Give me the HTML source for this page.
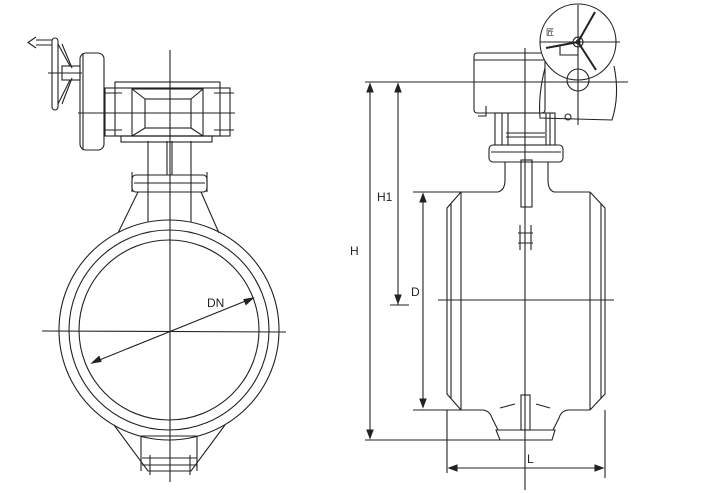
<!DOCTYPE html>
<html><head><style>html,body{margin:0;padding:0;background:#fff}svg{display:block}</style></head>
<body>
<svg width="712" height="493" viewBox="0 0 712 493" xmlns="http://www.w3.org/2000/svg" fill="none" stroke="#222" stroke-width="1.1" font-family="Liberation Sans, sans-serif">
<!-- LEFT VIEW -->
<line x1="170" y1="50" x2="170" y2="482"/>
<line x1="42" y1="331" x2="286" y2="332"/>
<circle cx="169" cy="330" r="110"/>
<circle cx="169" cy="330" r="100"/>
<circle cx="169" cy="330" r="90"/>
<line x1="92" y1="363" x2="253" y2="298"/>
<path d="M92 363 l9 -1.5 l-2 -5 z M253 298 l-9 1.5 l2 5 z" fill="#222"/>
<text x="207" y="307" font-size="12" fill="#222" stroke="none">DN</text>
<path d="M114 425 L148 471 L191 471 L225 425"/>
<path d="M141 436 V471 M197 436 V471 M141 436 H197"/>
<path d="M142 458 H197 M142 465 H197 M150 455 V475 M190 455 V475"/>
<path d="M148 141 V222 M191 141 V222"/>
<path d="M167 141 V175 M172 141 V175"/>
<path d="M138 192 L118 233 M201 192 L219 233"/>
<rect x="132" y="175" width="75" height="17" rx="4"/>
<line x1="134" y1="183" x2="205" y2="183"/>
<path d="M132 172 V192 M207 172 V192"/>
<rect x="121" y="136" width="91" height="6"/>
<rect x="105" y="88" width="125" height="48"/>
<rect x="115" y="82" width="105" height="54"/>
<rect x="132" y="89" width="71" height="47"/>
<rect x="145" y="99" width="46" height="29"/>
<path d="M132 89 L145 99 M203 89 L191 99 M132 136 L145 128 M203 136 L191 128"/>
<line x1="78" y1="113" x2="235" y2="113"/>
<path d="M105 93 H122 M105 130 H122 M214 93 H234 M214 130 H234"/>
<rect x="80" y="53" width="24" height="97" rx="6"/>
<line x1="83" y1="53" x2="83" y2="150"/>
<rect x="52" y="38" width="6" height="72" rx="3"/>
<path d="M58 44 L70 66 M58 104 L70 80"/>
<path d="M62 44 L72 68 M62 104 L72 78"/>
<rect x="62" y="66" width="18" height="14"/>
<line x1="48" y1="73" x2="82" y2="73"/>
<path d="M52 40 H36 M52 45 H36 M36 37 L28 42.5 L36 48"/>
<!-- RIGHT VIEW -->
<line x1="365" y1="82" x2="628" y2="82"/>
<line x1="525" y1="48" x2="525" y2="490"/>
<line x1="370" y1="87" x2="370" y2="438"/>
<path d="M370 84 l-3 8 h6 z M370 438 l-3 -8 h6 z" fill="#222"/>
<text x="350" y="255" font-size="12" fill="#222" stroke="none">H</text>
<line x1="398" y1="87" x2="398" y2="305"/>
<path d="M398 84 l-3 8 h6 z M398 303 l-3 -8 h6 z" fill="#222"/>
<line x1="390" y1="305" x2="409" y2="305"/>
<text x="377" y="201" font-size="12" fill="#222" stroke="none">H1</text>
<line x1="423" y1="194" x2="423" y2="407"/>
<path d="M423 194 l-3 8 h6 z M423 407 l-3 -8 h6 z" fill="#222"/>
<line x1="413" y1="192" x2="462" y2="192"/>
<line x1="413" y1="410" x2="462" y2="410"/>
<text x="411" y="296" font-size="12" fill="#222" stroke="none">D</text>
<line x1="365" y1="440" x2="500" y2="440"/>
<path d="M461 192 L447 208 V394 L461 410"/>
<path d="M590 192 L605 208 V394 L590 410"/>
<line x1="451" y1="204" x2="451" y2="398"/>
<line x1="601" y1="204" x2="601" y2="398"/>
<line x1="461" y1="192" x2="461" y2="410"/>
<line x1="590" y1="192" x2="590" y2="410"/>
<path d="M461 192 H498 Q505 190 505 180 V162 M590 192 H554 Q548 190 548 180 V162"/>
<line x1="438" y1="300" x2="614" y2="300"/>
<path d="M461 410 H483 Q490 411 492 418 L498 430 M590 410 H568 Q561 411 559 418 L553 430"/>
<path d="M496 430 H555 L552 440 H500 Z"/>
<rect x="521" y="395" width="9" height="35"/>
<path d="M500 408 L515 404 M550 408 L536 404"/>
<path d="M520 225 V250 M531 225 V250 M518 233 H533 M518 243 H533"/>
<path d="M447 410 V473 M605 410 V478"/>
<line x1="450" y1="468" x2="602" y2="468"/>
<path d="M449 468 l8 -3 v6 z M603 468 l-8 -3 v6 z" fill="#222"/>
<text x="527" y="463" font-size="12" fill="#222" stroke="none">L</text>
<rect x="521" y="160" width="11" height="47"/>
<rect x="489" y="145" width="74" height="17" rx="4"/>
<line x1="491" y1="152" x2="561" y2="152"/>
<rect x="495" y="113" width="60" height="32"/>
<path d="M502 113 V145 M508 113 V145 M546 113 V145 M550 113 V145"/>
<line x1="506" y1="133" x2="545" y2="133"/>
<line x1="506" y1="137" x2="545" y2="137"/>
<rect x="474" y="53" width="71" height="60" rx="3"/>
<line x1="474" y1="60" x2="545" y2="60"/>
<path d="M486 106 V116 H478"/>
<path d="M545 68 Q538 95 540 118 L612 120 Q620 95 614 66"/>
<circle cx="578" cy="42" r="38" fill="#fff"/>
<circle cx="578" cy="80" r="11"/>
<line x1="540" y1="42" x2="620" y2="42"/>
<line x1="578" y1="5" x2="578" y2="125"/>
<path d="M560 45 V55 H578"/>
<circle cx="578" cy="42" r="5"/>
<circle cx="578" cy="42" r="2"/>
<path d="M578 42 L595 12 M578 42 L596 70 M578 42 L546 48" stroke-width="2"/>
<text x="546" y="35" font-size="8" fill="#222" stroke="none">匠</text>
<circle cx="568" cy="117" r="3"/>
</svg>
</body></html>
